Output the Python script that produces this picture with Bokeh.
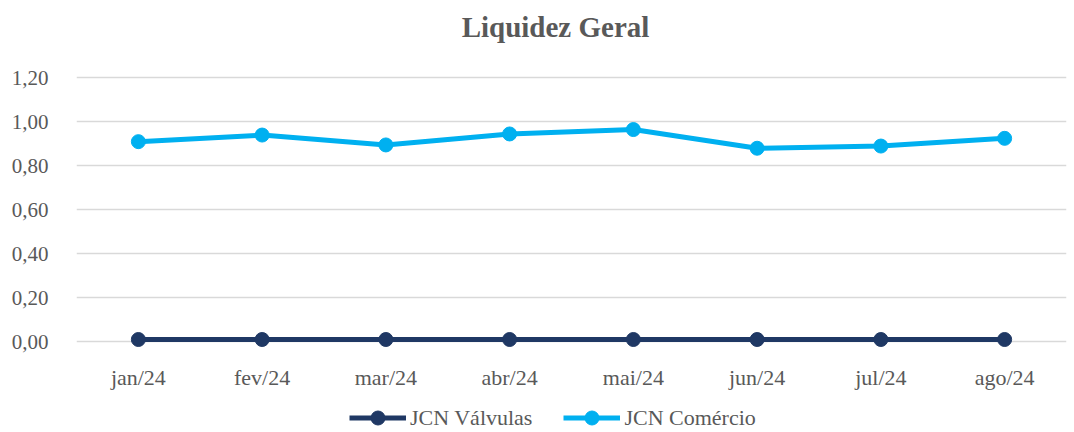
from bokeh.plotting import figure
from bokeh.layouts import column
from bokeh.models import (Range1d, FactorRange, FixedTicker, CustomJSTickFormatter, Legend,
                          LegendItem, ColumnDataSource, Label)
from bokeh.embed import file_html
from bokeh.resources import INLINE

months = ["jan/24", "fev/24", "mar/24", "abr/24", "mai/24", "jun/24", "jul/24", "ago/24"]
valvulas = [0.01, 0.01, 0.01, 0.01, 0.01, 0.01, 0.01, 0.01]
comercio = [0.91, 0.94, 0.895, 0.945, 0.965, 0.88, 0.89, 0.925]
y_ticks = [0.0, 0.2, 0.4, 0.6, 0.8, 1.0, 1.2]
series_names = ["JCN Válvulas", "JCN Comércio"]
title_text = "Liquidez Geral"

FONT = "Liberation Serif"
GRAY = "#595959"
C_VAL = "#1F3864"
C_COM = "#00B0F0"


def blank_strip(h, xr, yr):
    f = figure(width=1070, height=h, output_backend="svg", toolbar_location=None,
               x_range=xr, y_range=yr, min_border=0)
    f.axis.visible = False
    f.grid.visible = False
    f.outline_line_color = None
    return f


# title strip
p0 = blank_strip(61, Range1d(0, 1), Range1d(0, 1))
p0.add_layout(Label(x=479, y=35, x_units="screen", y_units="screen", text=title_text,
                    text_align="center", text_baseline="alphabetic", text_font=FONT,
                    text_font_size="29px", text_font_style="bold", text_color=GRAY))

# main chart
p = figure(x_range=months, y_range=Range1d(-0.04, 1.22), width=1070, height=331,
           output_backend="svg", toolbar_location=None,
           min_border_left=76, min_border_right=4, min_border_top=12, min_border_bottom=42)
p.outline_line_color = None
p.xgrid.grid_line_color = None
p.ygrid.grid_line_color = "#D9D9D9"
p.ygrid.grid_line_width = 1.5
p.yaxis.ticker = FixedTicker(ticks=y_ticks)
p.yaxis.formatter = CustomJSTickFormatter(code="return tick.toFixed(2).replace('.', ',');")
for ax in (p.xaxis, p.yaxis):
    ax.axis_line_color = None
    ax.major_tick_line_color = None
    ax.minor_tick_line_color = None
    ax.major_label_text_font = FONT
    ax.major_label_text_color = GRAY
p.xaxis.major_label_text_font_size = "22px"
p.yaxis.major_label_text_font_size = "21px"
p.xaxis.major_label_standoff = 8
p.yaxis.major_label_standoff = 22

src = ColumnDataSource(dict(x=months, v=valvulas, c=comercio))
p.line("x", "v", source=src, line_color=C_VAL, line_width=5)
p.scatter("x", "v", source=src, size=14, fill_color=C_VAL, line_color=C_VAL)
p.line("x", "c", source=src, line_color=C_COM, line_width=5)
p.scatter("x", "c", source=src, size=14, fill_color=C_COM, line_color=C_COM)

# legend strip below the chart (its series lie outside this strip's visible range)
p2 = blank_strip(40, FactorRange(*months), Range1d(5, 6))
items = []
for name, field, col in zip(series_names, ["v", "c"], [C_VAL, C_COM]):
    lr = p2.line("x", field, source=src, line_color=col, line_width=5)
    sr = p2.scatter("x", field, source=src, size=14, fill_color=col, line_color=col)
    items.append(LegendItem(label=name, renderers=[lr, sr]))
legend = Legend(items=items, orientation="horizontal", location=(273, -3),
                label_text_font=FONT, label_text_font_size="22px", label_text_color=GRAY,
                glyph_width=57, glyph_height=35, label_height=20, spacing=31, padding=0, margin=0,
                border_line_color=None, background_fill_alpha=0, label_standoff=4)
p2.add_layout(legend, "center")

layout = column(p0, p, p2, spacing=0)
open("out.html", "w").write(file_html(layout, INLINE))
